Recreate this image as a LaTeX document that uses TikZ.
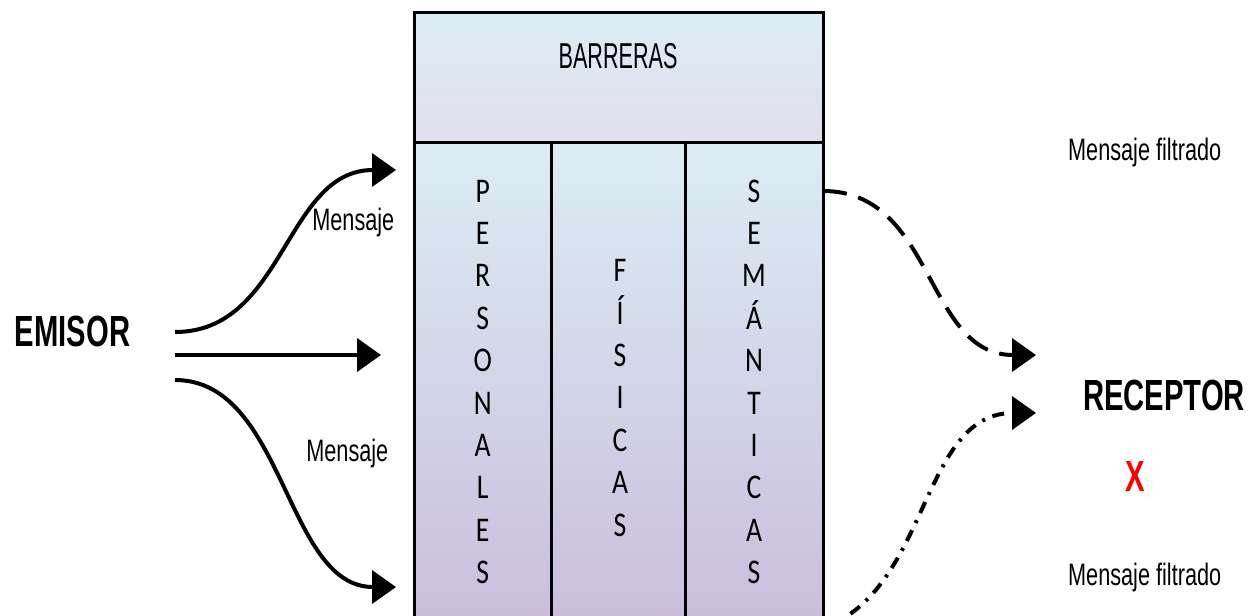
\documentclass[tikz,border=0pt]{standalone}
\usepackage{fontspec}
\setmainfont{Liberation Sans}
\newfontfamily\labelfont{Liberation Sans}[FakeStretch=0.7]
\newfontfamily\titlefont{Liberation Sans}[FakeStretch=0.6]
\newfontfamily\actorfont{Liberation Sans}[FakeStretch=0.67]
\newfontfamily\colfont{Carlito}[FakeStretch=0.8]
\usetikzlibrary{arrows.meta}

\definecolor{barblue}{RGB}{219,237,244}
\definecolor{barlilac}{RGB}{226,222,238}
\definecolor{collilac}{RGB}{202,188,220}

\begin{document}
\begin{tikzpicture}[
 x=0.5pt, y=-0.5pt,
 box/.style={draw=black,line width=1.5pt},
 letter/.style={font=\colfont\fontsize{17.3}{20}\selectfont,inner sep=0pt,anchor=base},
 actor/.style={font=\actorfont\bfseries\fontsize{21.8}{24}\selectfont,inner sep=0pt,anchor=base},
 caption/.style={font=\labelfont\fontsize{15.5}{18}\selectfont,inner sep=0pt,anchor=base},
 message/.style={black,line width=2pt,-{Triangle[length=12pt,width=16.5pt]}},
 filtered/.style={message,dash pattern=on 12pt off 6pt},
 blocked/.style={message,dash pattern=on 6pt off 4pt on 1.5pt off 4pt},
]
\clip (0,0) rectangle (1251,615);

% Barriers box
\shade[top color=barblue,bottom color=barlilac] (414,13) rectangle (823,142);
\foreach \left/\right in {414/551.7, 551.7/685.7, 685.7/823}
    \shade[top color=barblue,bottom color=collilac] (\left,142) rectangle (\right,630);
\draw[box] (414,13) rectangle (823,640);
\draw[box] (414,142) -- (823,142);
\foreach \x in {551.7, 685.7}
    \draw[box] (\x,142) -- (\x,640);

\node[font=\titlefont\fontsize{18}{20}\selectfont,inner sep=0pt,anchor=base] (barreras) at (618,68.5) {BARRERAS};

\foreach \name/\x/\y/\word in {personales/482.7/202/{P,E,R,S,O,N,A,L,E,S},
                               fisicas/620/281.7/{F,Í,S,I,C,A,S},
                               semanticas/754/202/{S,E,M,Á,N,T,I,C,A,S}}
    \foreach \l [count=\i from 0] in \word
        \node[letter] (\name-\i) at (\x, \y + 42.4*\i) {\l};

% Sender and receiver
\node[actor] (emisor) at (72.5,346) {EMISOR};
\node[actor] (receptor) at (1164,410.7) {RECEPTOR};
\node[actor,text=red] (cross) at (1135.5,491.7) {X};

% Messages
\coordinate (emisor-a) at (175,332);
\coordinate (emisor-b) at (175,355);
\coordinate (emisor-c) at (175,380);
\coordinate (box-a) at (396,170);
\coordinate (box-b) at (381,355);
\coordinate (box-c) at (396,587);
\draw[message] (emisor-a) .. controls (285,332) and (285,170) .. (box-a);
\draw[message] (emisor-b) -- (box-b);
\draw[message] (emisor-c) .. controls (285,380) and (285,587) .. (box-c);
\node[caption] (mensaje-a) at (353.3,230) {Mensaje};
\node[caption] (mensaje-c) at (347.3,461) {Mensaje};

% Filtered messages
\coordinate (semanticas-out) at (823,191);
\coordinate (semanticas-low) at (823,628);
\coordinate (receptor-a) at (1036,355);
\coordinate (receptor-b) at (1036,413);
\draw[filtered] (semanticas-out) .. controls (935,191) and (925,355) .. (receptor-a);
\draw[blocked] (semanticas-low) .. controls (930,590) and (920,413) .. (receptor-b);
\node[caption] (filtrado-a) at (1144.7,160) {Mensaje filtrado};
\node[caption] (filtrado-b) at (1144.7,585) {Mensaje filtrado};

\end{tikzpicture}
\end{document}
